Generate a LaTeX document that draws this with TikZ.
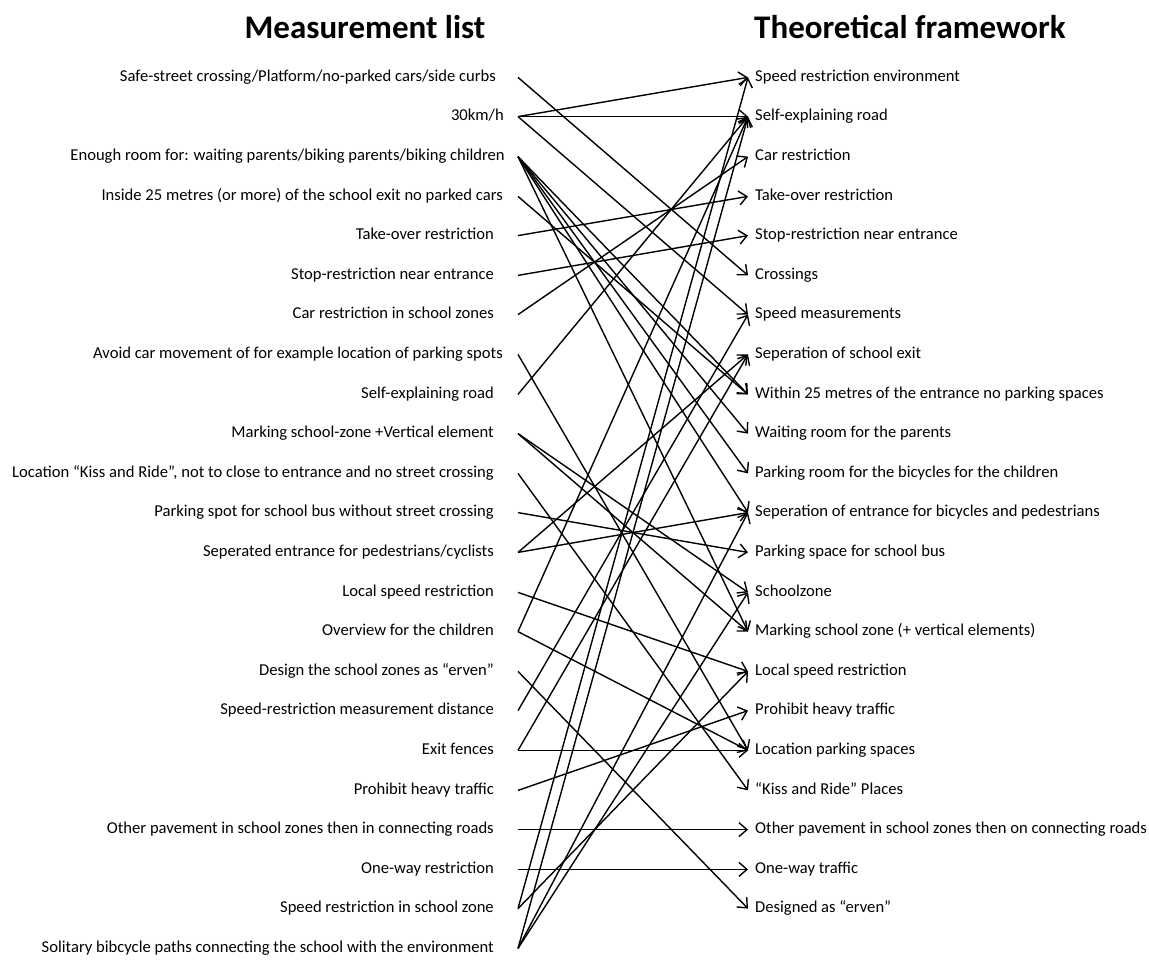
\documentclass[tikz,border=0pt]{standalone}
\usepackage{fontspec}
\setmainfont{Carlito}
\usetikzlibrary{arrows.meta}
\tikzset{>={Straight Barb[length=8pt,width=14pt]}}

\begin{document}
\begin{tikzpicture}[x=1pt,y=-1pt,
    meas/.style={anchor=east,inner xsep=24pt,inner ysep=0pt,text height=11pt,text depth=3pt,font=\fontsize{16.6}{20}\selectfont},
    theo/.style={anchor=west,inner xsep=7pt,inner ysep=0pt,text height=11pt,text depth=3pt,font=\fontsize{16.6}{20}\selectfont},
    head/.style={font=\fontsize{33}{38}\selectfont\bfseries},
    link/.style={->,line width=1.4pt}]
\useasboundingbox (0,0) rectangle (1149,959);
% headings
\node[head] (hm) at (365,27) {Measurement list};
\node[head] (ht) at (910,27) {Theoretical framework};
% measurement list
\node[meas,inner xsep=22pt] (m1) at (518,77.4) {Safe-street crossing/Platform/no-parked cars/side curbs};
\node[meas,inner xsep=14pt] (m2) at (518,116.6) {30km/h};
\node[meas,inner xsep=13pt] (m3) at (518,156.6) {Enough room for: waiting parents/biking parents/biking children};
\node[meas,inner xsep=15pt] (m4) at (518,196.4) {Inside 25 metres (or more) of the school exit no parked cars};
\node[meas] (m5) at (518,235.6) {Take-over restriction};
\node[meas] (m6) at (518,275.4) {Stop-restriction near entrance};
\node[meas] (m7) at (518,314.6) {Car restriction in school zones};
\node[meas,inner xsep=15pt] (m8) at (518,354.4) {Avoid car movement of for example location of parking spots};
\node[meas] (m9) at (518,394.4) {Self-explaining road};
\node[meas] (m10) at (518,433.6) {Marking school-zone +Vertical element};
\node[meas] (m11) at (518,473.4) {Location “Kiss and Ride”, not to close to entrance and no street crossing};
\node[meas] (m12) at (518,512.6) {Parking spot for school bus without street crossing};
\node[meas] (m13) at (518,552.4) {Seperated entrance for pedestrians/cyclists};
\node[meas] (m14) at (518,592.4) {Local speed restriction};
\node[meas] (m15) at (518,631.6) {Overview for the children};
\node[meas] (m16) at (518,671.4) {Design the school zones as “erven”};
\node[meas] (m17) at (518,710.6) {Speed-restriction measurement distance};
\node[meas] (m18) at (518,750.4) {Exit fences};
\node[meas] (m19) at (518,790.4) {Prohibit heavy traffic};
\node[meas] (m20) at (518,829.6) {Other pavement in school zones then in connecting roads};
\node[meas] (m21) at (518,869.4) {One-way restriction};
\node[meas] (m22) at (518,908.6) {Speed restriction in school zone};
\node[meas] (m23) at (518,948.4) {Solitary bibcycle paths connecting the school with the environment};
% theoretical framework
\node[theo] (t1) at (748,77.4) {Speed restriction environment};
\node[theo] (t2) at (748,116.6) {Self-explaining road};
\node[theo] (t3) at (748,156.6) {Car restriction};
\node[theo] (t4) at (748,196.4) {Take-over restriction};
\node[theo] (t5) at (748,235.6) {Stop-restriction near entrance};
\node[theo] (t6) at (748,275.4) {Crossings};
\node[theo] (t7) at (748,314.6) {Speed measurements};
\node[theo] (t8) at (748,354.4) {Seperation of school exit};
\node[theo] (t9) at (748,394.4) {Within 25 metres of the entrance no parking spaces};
\node[theo] (t10) at (748,433.6) {Waiting room for the parents};
\node[theo] (t11) at (748,473.4) {Parking room for the bicycles for the children};
\node[theo] (t12) at (748,512.6) {Seperation of entrance for bicycles and pedestrians};
\node[theo] (t13) at (748,552.4) {Parking space for school bus};
\node[theo] (t14) at (748,592.4) {Schoolzone};
\node[theo] (t15) at (748,631.6) {Marking school zone (+ vertical elements)};
\node[theo] (t16) at (748,671.4) {Local speed restriction};
\node[theo] (t17) at (748,710.6) {Prohibit heavy traffic};
\node[theo] (t18) at (748,750.4) {Location parking spaces};
\node[theo] (t19) at (748,790.4) {“Kiss and Ride” Places};
\node[theo] (t20) at (748,829.6) {Other pavement in school zones then on connecting roads};
\node[theo] (t21) at (748,869.4) {One-way traffic};
\node[theo] (t22) at (748,908.6) {Designed as “erven”};
% links
\draw[link] (m1.east) -- (t6.west);
\draw[link] (m2.east) -- (t1.west);
\draw[link] (m2.east) -- (t2.west);
\draw[link] (m2.east) -- (t7.west);
\draw[link] (m3.east) -- (t9.west);
\draw[link] (m3.east) -- (t10.west);
\draw[link] (m3.east) -- (t11.west);
\draw[link] (m3.east) -- (t12.west);
\draw[link] (m3.east) -- (t15.west);
\draw[link] (m4.east) -- (t9.west);
\draw[link] (m5.east) -- (t4.west);
\draw[link] (m6.east) -- (t5.west);
\draw[link] (m7.east) -- (t3.west);
\draw[link] (m8.east) -- (t18.west);
\draw[link] (m9.east) -- (t2.west);
\draw[link] (m10.east) -- (t14.west);
\draw[link] (m10.east) -- (t15.west);
\draw[link] (m11.east) -- (t19.west);
\draw[link] (m12.east) -- (t13.west);
\draw[link] (m13.east) -- (t8.west);
\draw[link] (m13.east) -- (t12.west);
\draw[link] (m14.east) -- (t16.west);
\draw[link] (m15.east) -- (t2.west);
\draw[link] (m15.east) -- (t18.west);
\draw[link] (m16.east) -- (t22.west);
\draw[link] (m17.east) -- (t7.west);
\draw[link] (m18.east) -- (t8.west);
\draw[link] (m18.east) -- (t18.west);
\draw[link] (m19.east) -- (t17.west);
\draw[link] (m20.east) -- (t20.west);
\draw[link] (m21.east) -- (t21.west);
\draw[link] (m22.east) -- (t1.west);
\draw[link] (m22.east) -- (t16.west);
\draw[link] (m23.east) -- (t2.west);
\draw[link] (m23.east) -- (t12.west);
\draw[link] (m23.east) -- (t14.west);
\end{tikzpicture}
\end{document}
